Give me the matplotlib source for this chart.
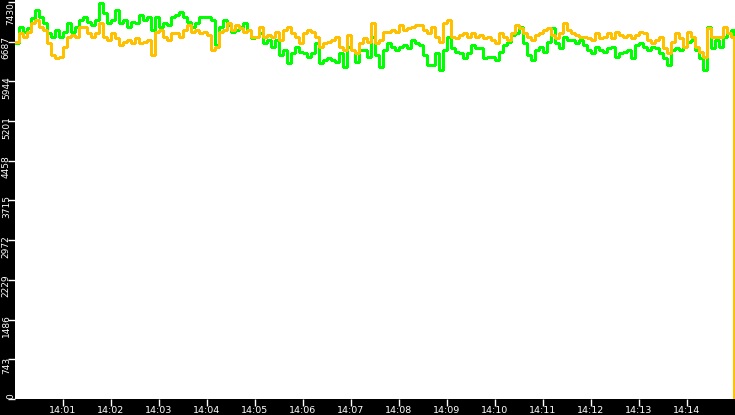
import numpy as np
import matplotlib.pyplot as plt
from matplotlib.transforms import ScaledTranslation

# values sampled every 5 s starting 14:00:00
green = [6656, 6968, 6874, 6937, 7124, 7280, 7155, 7030, 6843, 6781,
         6905, 6781, 6874, 7030, 6874, 6968, 7093, 7155, 7061, 6999,
         7093, 7405, 7217, 7030, 7093, 7280, 7030, 7093, 6968, 7061,
         7030, 7186, 7093, 7155, 6905, 7155, 6968, 7030, 6999, 7155,
         7186, 7249, 7155, 7061, 6968, 7030, 7155, 7155, 7155, 7093,
         6625, 6968, 7093, 6999, 6874, 6905, 6968, 7030, 6905, 6749,
         6781, 6843, 6656, 6718, 6593, 6718, 6437, 6531, 6281, 6469,
         6593, 6500, 6469, 6406, 6469, 6656, 6281, 6344, 6375, 6344,
         6313, 6469, 6219, 6593, 6531, 6313, 6531, 6531, 6406, 6781,
         6437, 6219, 6531, 6656, 6593, 6531, 6593, 6625, 6562, 6718,
         6656, 6625, 6437, 6250, 6250, 6469, 6157, 6531, 6781, 6562,
         6500, 6469, 6375, 6469, 6625, 6562, 6562, 6375, 6406, 6406,
         6344, 6500, 6625, 6687, 6812, 6843, 6968, 6656, 6437, 6344,
         6531, 6593, 6500, 6687, 6937, 6656, 6562, 6781, 6718, 6718,
         6656, 6718, 6625, 6531, 6469, 6593, 6531, 6500, 6562, 6593,
         6406, 6469, 6500, 6531, 6375, 6625, 6656, 6593, 6531, 6593,
         6562, 6469, 6375, 6250, 6531, 6562, 6531, 6593, 6687, 6718,
         6531, 6375, 6157, 6968, 6562, 6718, 6593, 6781, 6843, 6905]
orange = [6687, 6843, 6781, 6874, 7030, 7093, 6968, 6905, 6656, 6437,
          6375, 6406, 6593, 6781, 6812, 6781, 6968, 6968, 6843, 6781,
          6843, 7030, 6781, 6718, 6843, 6749, 6625, 6687, 6718, 6656,
          6749, 6656, 6687, 6718, 6437, 6874, 6905, 6781, 6718, 6843,
          6843, 6781, 6905, 6999, 6874, 6905, 6843, 6874, 6812, 6531,
          6593, 6874, 6905, 7030, 6905, 6999, 6937, 6874, 6905, 6781,
          6781, 6968, 6781, 6812, 6781, 6874, 6718, 6905, 6968, 6843,
          6781, 6656, 6843, 6905, 6874, 6781, 6593, 6656, 6687, 6718,
          6781, 6593, 6531, 6812, 6531, 6469, 6656, 6749, 6687, 7030,
          6656, 6718, 6874, 6874, 6905, 6874, 6999, 6905, 6937, 6968,
          6999, 6999, 6905, 6843, 6968, 6781, 6687, 7030, 7093, 6781,
          6749, 6812, 6843, 6781, 6843, 6781, 6812, 6749, 6781, 6718,
          6656, 6843, 6781, 6718, 6843, 6999, 6937, 6843, 6781, 6718,
          6812, 6843, 6905, 6937, 6812, 6749, 6843, 7030, 6905, 6843,
          6812, 6781, 6781, 6749, 6718, 6843, 6749, 6781, 6843, 6749,
          6874, 6812, 6781, 6812, 6749, 6812, 6874, 6843, 6718, 6656,
          6718, 6781, 6562, 6469, 6687, 6843, 6749, 6593, 6874, 6781,
          6593, 6500, 6406, 6937, 6781, 6781, 6781, 6968, 6843, 6781]
green_end = 3390
orange_end = 0
step_s = 5
x_labels = ['14:01', '14:02', '14:03', '14:04', '14:05', '14:06', '14:07',
            '14:08', '14:09', '14:10', '14:11', '14:12', '14:13', '14:14']
y_ticks = [0, 743, 1486, 2229, 2972, 3715, 4458, 5201, 5944, 6687, 7430]

t = np.append(np.arange(len(green)) * step_s, 899)
g = np.append(green, green_end)
o = np.append(orange, orange_end)

fig = plt.figure(figsize=(7.35, 4.15), dpi=100, facecolor='black')
ax = fig.add_axes([15/735, 16/415, 720/735, 399/415])
ax.set_facecolor('white')
ax.plot(t, g, color='#00ff00', lw=0.75, drawstyle='steps-post', antialiased=False)
ax.plot(t, o, color='#ffc000', lw=0.75, drawstyle='steps-post', antialiased=False)
ax.set_xlim(0, 900)
ax.set_ylim(0, 7467)
for s in ax.spines.values():
    s.set_visible(False)

ax.set_xticks(np.arange(60, 900, 60))
ax.set_xticklabels(x_labels)
ax.set_yticks(y_ticks)
ax.tick_params(axis='x', colors='white', labelsize=6.8, length=5, width=1, pad=0)
ax.tick_params(axis='y', colors='white', labelsize=6.5, length=5, width=1, pad=-2)

# rotated y labels, hung a little below their tick
shift = ScaledTranslation(0, -6/100, fig.dpi_scale_trans)
ylabels = ax.get_yticklabels()
for lbl in ylabels:
    lbl.set_rotation(90)
    lbl.set_va('center')
    lbl.set_transform(lbl.get_transform() + shift)
ylabels[0].set_va('bottom')
ylabels[0].set_transform(ax.get_yaxis_text1_transform(0)[0])
ylabels[-1].set_va('top')
ylabels[-1].set_transform(ax.get_yaxis_text1_transform(0)[0])

fig.savefig('out.png', dpi=100, facecolor='black')
